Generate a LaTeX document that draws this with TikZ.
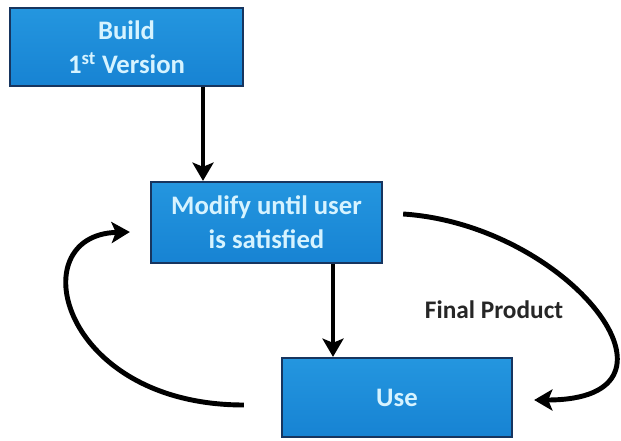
\documentclass[tikz,border=0pt]{standalone}
\usepackage{fontspec}
\setmainfont{Carlito}
\usetikzlibrary{arrows.meta}

\definecolor{boxblue}{HTML}{1783D3}
\definecolor{boxtop}{HTML}{2496DF}
\definecolor{boxline}{HTML}{17355F}
\definecolor{boxtext}{HTML}{D6F3FF}

\tikzset{
  box/.style={draw=boxline, line width=1.6pt, top color=boxtop, bottom color=boxblue,
    text=boxtext, font=\fontsize{19}{24}\selectfont\bfseries, align=center,
    inner sep=0pt},
}

\begin{document}
\begin{tikzpicture}[x=0.025cm, y=-0.025cm, >={Stealth[length=13pt,width=15pt,inset=3pt]}]
\useasboundingbox (0,0) rectangle (621,441);

\node[box, minimum width=5.825cm, minimum height=1.95cm] (build) at (126.5,47) {Build\\1\textsuperscript{st} Version};
\node[box, minimum width=5.775cm, minimum height=2.025cm] (modify) at (266.5,222.5) {Modify until user\\is satisfied};
\node[box, minimum width=5.75cm, minimum height=1.975cm] (use) at (397,397.5) {Use};
\node[font=\fontsize{18}{22}\selectfont\bfseries, text=black!85] (final) at (494,310) {Final Product};

\draw [->, line width=3pt] (build.south -| 203,0) -- (modify.north -| 203,0);
\draw [->, line width=3pt] (modify.south -| 333,0) -- (use.north -| 333,0);
\draw [->, line width=3.5pt] ([shift={(20,-8.5)}]modify.east) .. controls (570,225) and (705,400) .. ([shift={(21,2.5)}]use.east);
\draw [->, line width=3.5pt] ([shift={(-37,7.5)}]use.west) .. controls (60,405) and (20,235) .. ([shift={(-20,9.5)}]modify.west);
\end{tikzpicture}
\end{document}
